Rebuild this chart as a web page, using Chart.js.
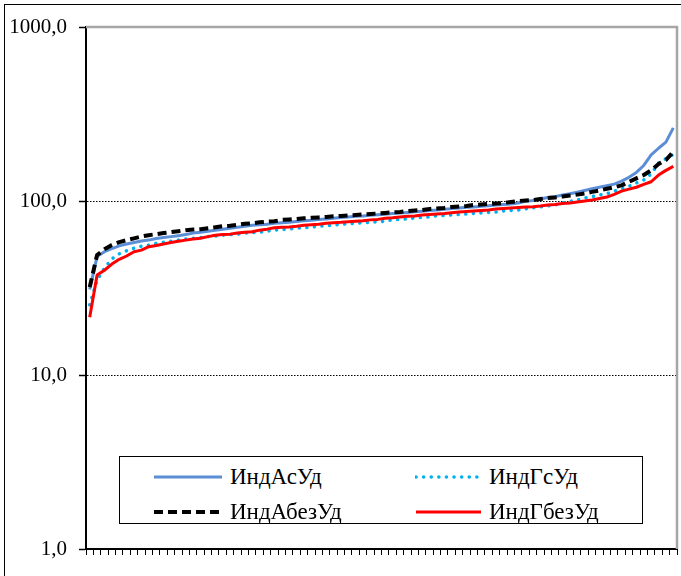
<!DOCTYPE html>
<html>
<head>
<meta charset="utf-8">
<script src="https://cdn.jsdelivr.net/npm/chart.js@4.4.1/dist/chart.umd.min.js"></script>
<style>
body { margin: 0; background: #fff; }
#wrap { position: relative; width: 681px; height: 576px; overflow: hidden; }
#frame { position: absolute; left: 4px; top: 4px; width: 700px; height: 600px; border-left: 1px solid #000; border-top: 1px solid #000; }
#chart { position: absolute; left: 0; top: 0; }
#legend { position: absolute; left: 119px; top: 456px; width: 522px; height: 66px; border: 1px solid #000; background: #fff;
  font-family: 'Liberation Serif', 'Times New Roman', serif; font-size: 23px; color: #000; }
.item { position: absolute; height: 26px; display: flex; align-items: center; white-space: nowrap; }
.item svg { margin-right: 7px; }
</style>
</head>
<body>
<div id="wrap">
  <div id="frame"></div>
  <canvas id="chart" width="681" height="576"></canvas>
  <div id="legend"></div>
</div>
<script>
const seriesNames = ['ИндАсУд', 'ИндГсУд', 'ИндАбезУд', 'ИндГбезУд'];
const categories = Array.from({ length: 80 }, (_, i) => String(i + 1));
const yTicks = [1, 10, 100, 1000];

const indAsUd = [31, 47.9, 51.1, 53.2, 55.2, 56.6, 57.7, 58.9, 59.6, 60.9,
  61.6, 62.4, 63.2, 64.1, 65.4, 66.2, 67.1, 68.0, 68.9, 69.8,
  70.6, 71.6, 72.5, 73.0, 73.5, 74.4, 75.0, 75.4, 76.3, 77.0,
  77.6, 78.4, 78.9, 79.5, 80.4, 81.0, 81.6, 82.1, 82.8, 83.4,
  84.0, 84.8, 85.4, 86.0, 86.7, 87.4, 88.2, 88.8, 89.6, 90.4,
  91.2, 92.0, 92.4, 93.2, 94.0, 94.7, 95.4, 96.2, 97.4, 99.5,
  100.7, 102.7, 104.7, 106.0, 108.3, 110.0, 112.4, 115.0, 117.5, 120.0,
  122.6, 125.0, 130.0, 137.0, 146.0, 160.0, 184.0, 201.0, 218.0, 263.0];

const indGsUd = [25.3, 35.2, 41.1, 46.5, 49.7, 51.8, 53.5, 55.0, 55.8, 57.0,
  58.0, 58.8, 59.6, 60.4, 61.1, 61.6, 62.4, 62.8, 63.6, 64.1,
  64.5, 65.4, 65.8, 66.2, 67.1, 68.0, 68.5, 68.9, 69.8, 70.2,
  70.6, 71.6, 72.0, 72.5, 73.5, 74.0, 74.4, 75.0, 75.4, 76.0,
  76.5, 77.9, 78.4, 78.9, 80.0, 80.5, 81.0, 82.1, 82.6, 83.1,
  83.7, 84.2, 84.8, 85.4, 86.0, 86.5, 87.6, 88.2, 88.8, 90.0,
  91.2, 92.4, 93.6, 94.9, 97.4, 99.5, 101.3, 104.0, 106.0, 108.3,
  110.0, 114.0, 117.0, 121.5, 127.0, 132.0, 143.0, 165.0, 175.0, 185.0];

const indAbezUd = [32.0, 48.9, 52.8, 55.8, 58.0, 59.6, 61.0, 62.5, 63.6, 64.5,
  65.4, 66.2, 67.1, 68.0, 68.5, 68.9, 69.8, 70.6, 71.6, 72.0,
  73.0, 74.0, 74.4, 75.4, 76.0, 76.5, 77.9, 78.4, 78.9, 79.5,
  80.0, 80.5, 81.0, 81.6, 82.1, 82.6, 83.1, 83.7, 84.2, 84.8,
  85.4, 86.0, 86.5, 87.6, 88.2, 88.8, 90.0, 90.6, 91.2, 92.4,
  93.0, 93.6, 94.9, 95.5, 96.2, 96.8, 97.4, 98.7, 100.0, 100.7,
  101.3, 102.7, 104.0, 104.7, 106.0, 107.4, 108.8, 110.6, 112.8, 115.0,
  117.5, 120.0, 123.0, 129.0, 135.0, 141.0, 150.0, 163.0, 172.0, 192.0];

const indGbezUd = [21.5, 37.5, 40.0, 43.4, 46.2, 48.3, 51.1, 52.2, 54.6, 55.5,
  56.6, 57.8, 58.7, 59.6, 60.4, 61.1, 62.4, 63.6, 64.1, 64.5,
  65.4, 66.2, 66.6, 68.0, 68.9, 70.2, 70.6, 71.0, 71.6, 72.5,
  73.0, 73.5, 74.4, 75.0, 75.4, 76.0, 76.5, 77.1, 77.9, 78.4,
  79.5, 80.0, 81.0, 81.6, 82.1, 83.1, 83.7, 84.2, 84.8, 85.6,
  86.5, 87.0, 87.6, 88.2, 88.8, 90.0, 90.6, 91.2, 91.8, 92.4,
  92.8, 93.6, 94.9, 95.5, 96.8, 97.4, 98.7, 100.0, 101.3, 103.4,
  105.3, 109.2, 114.0, 117.0, 120.0, 124.5, 129.0, 141.0, 150.0, 158.0];

const styles = [
  { color: '#5B8ED6', width: 3, dash: [], cap: 'butt' },
  { color: '#00B0F0', width: 3.5, dash: [0.1, 7.5], cap: 'round' },
  { color: '#000000', width: 4, dash: [9, 5], cap: 'butt' },
  { color: '#FF0000', width: 3, dash: [], cap: 'butt' }
];
const allData = [indAsUd, indGsUd, indAbezUd, indGbezUd];
const drawOrder = [4, 3, 2, 1];

// legend as html
const legend = document.getElementById('legend');
const legendPos = [[33, 7], [295, 7], [33, 42], [295, 42]];
const sampleLen = [70, 67, 70, 67];
seriesNames.forEach(function(name, i) {
    const s = styles[i];
    const el = document.createElement('div');
    el.className = 'item';
    el.style.left = legendPos[i][0] + 'px';
    el.style.top = legendPos[i][1] + 'px';
    el.innerHTML = '<svg width="' + sampleLen[i] + '" height="8"><line x1="1" y1="4" x2="' + (sampleLen[i] - 1) +
        '" y2="4" stroke="' + s.color + '" stroke-width="' + s.width + '" stroke-linecap="' + s.cap +
        '" stroke-dasharray="' + (s.dash.length ? s.dash.join(' ') : 'none') + '"/></svg><span>' + name + '</span>';
    legend.appendChild(el);
});

const plotFrame = {
    id: 'plotFrame',
    beforeDatasetsDraw(chart) {
        const { ctx, chartArea } = chart;
        ctx.save();
        ctx.strokeStyle = '#A6A6A6';
        ctx.lineWidth = 2.5;
        ctx.beginPath();
        ctx.moveTo(chartArea.left, chartArea.top);
        ctx.lineTo(chartArea.right, chartArea.top);
        ctx.lineTo(chartArea.right, chartArea.bottom);
        ctx.stroke();
        ctx.restore();
    }
};

new Chart(document.getElementById('chart'), {
    type: 'line',
    data: {
        labels: categories,
        datasets: seriesNames.map(function(name, i) {
            return {
                label: name,
                data: allData[i],
                borderColor: styles[i].color,
                borderWidth: styles[i].width,
                borderDash: styles[i].dash,
                borderCapStyle: styles[i].cap,
                borderJoinStyle: 'round',
                pointRadius: 0,
                tension: 0,
                fill: false,
                order: drawOrder[i]
            };
        })
    },
    options: {
        responsive: false,
        animation: false,
        layout: { padding: { left: 0, top: 27, right: 4, bottom: 0 } },
        plugins: {
            legend: { display: false },
            tooltip: { enabled: false }
        },
        scales: {
            x: {
                type: 'category',
                offset: true,
                grid: { offset: true, drawOnChartArea: false, drawTicks: true, tickLength: 6, tickColor: '#000', tickWidth: 1 },
                ticks: { display: false, autoSkip: false },
                border: { color: '#000', width: 2 },
                afterFit(scale) { scale.height = 27; }
            },
            y: {
                type: 'logarithmic',
                min: 1,
                max: 1000,
                afterBuildTicks(scale) { scale.ticks = yTicks.map(v => ({ value: v })); },
                afterFit(scale) { scale.width = 86; },
                grid: {
                    color: ctx => (ctx.tick && (ctx.tick.value === 10 || ctx.tick.value === 100)) ? '#000' : 'rgba(0,0,0,0)',
                    lineWidth: 1,
                    tickColor: '#000',
                    tickWidth: 1.5,
                    tickLength: 7,
                    tickBorderDash: []
                },
                border: { color: '#000', width: 2, dash: [1.5, 1.5] },
                ticks: {
                    padding: 12,
                    color: '#000',
                    font: { family: "'Liberation Serif', 'Times New Roman', serif", size: 21 },
                    callback: v => v.toFixed(1).replace('.', ',')
                }
            }
        }
    },
    plugins: [plotFrame]
});
</script>
</body>
</html>
